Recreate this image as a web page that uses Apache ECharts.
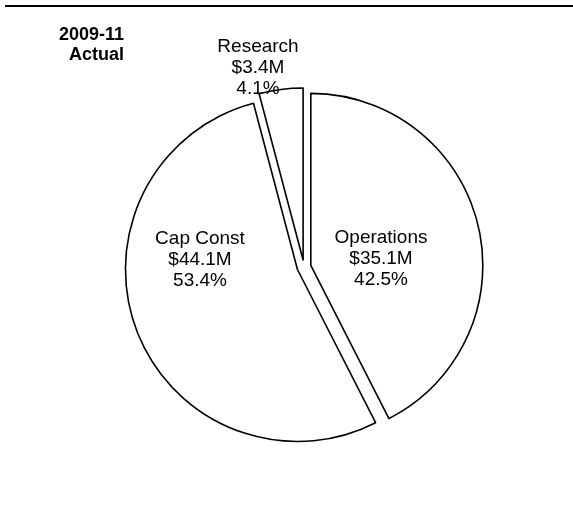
<!DOCTYPE html>
<html>
<head>
<meta charset="utf-8">
<script src="https://cdn.jsdelivr.net/npm/echarts@6/dist/echarts.min.js"></script>
<style>
html,body{margin:0;padding:0;background:#fff;}
#chart{width:573px;height:519px;}
</style>
</head>
<body>
<div id="chart"></div>
<script>
const titleLines = ['2009-11', 'Actual'];
const categories = ['Operations', 'Cap Const', 'Research'];
const amounts = [35.1, 44.1, 3.4];
const amountLabels = ['$35.1M', '$44.1M', '$3.4M'];
const percents = ['42.5%', '53.4%', '4.1%'];

const labelPos = [[381, 259], [200, 260], [258, 68]];

const chart = echarts.init(document.getElementById('chart'), null, {renderer: 'canvas'});
const FONT = '"Liberation Sans", Arial, sans-serif';

const labelTexts = categories.map((c, i) => ({
  type: 'text',
  x: labelPos[i][0],
  y: labelPos[i][1],
  z: 100,
  style: {
    text: c + '\n' + amountLabels[i] + '\n' + percents[i],
    align: 'center',
    verticalAlign: 'middle',
    fontFamily: FONT,
    fontSize: 19,
    lineHeight: 21,
    fill: '#000'
  }
}));

chart.setOption({
  animation: false,
  backgroundColor: '#fff',
  graphic: [
    {
      type: 'line',
      shape: {x1: 5, y1: 6, x2: 573, y2: 6},
      style: {stroke: '#000', lineWidth: 2}
    },
    {
      type: 'text',
      x: 124, y: 25,
      style: {
        text: titleLines.join('\n'),
        align: 'right',
        verticalAlign: 'top',
        fontFamily: FONT,
        fontWeight: 'bold',
        fontSize: 18,
        lineHeight: 20,
        fill: '#000'
      }
    }
  ].concat(labelTexts),
  series: [{
    type: 'pie',
    center: [304, 267],
    radius: 172,
    startAngle: 90,
    clockwise: true,
    selectedMode: 'multiple',
    selectedOffset: 7,
    avoidLabelOverlap: false,
    itemStyle: {color: '#fff', borderColor: '#000', borderWidth: 1.6},
    emphasis: {disabled: true},
    label: {show: false},
    labelLine: {show: false},
    data: categories.map((c, i) => ({name: c, value: amounts[i], selected: true}))
  }]
});
</script>
</body>
</html>
